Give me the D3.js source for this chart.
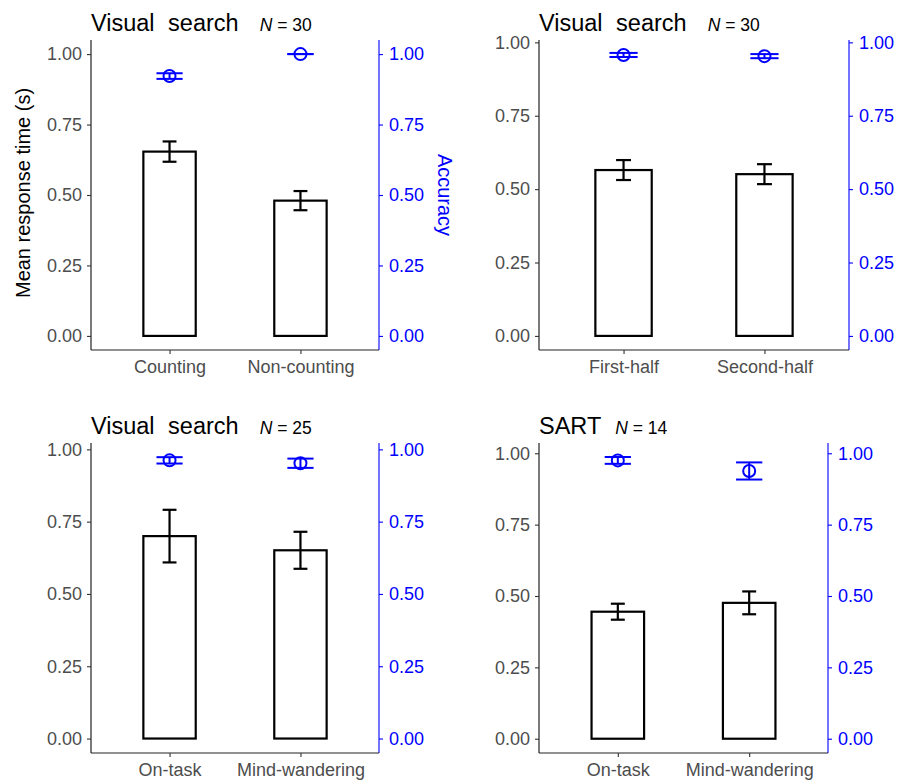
<!DOCTYPE html>
<html>
<head>
<meta charset="utf-8">
<script src="https://cdn.jsdelivr.net/npm/d3@7"></script>
<style>
  html, body { margin: 0; padding: 0; background: #fff; }
  svg { display: block; font-family: "Liberation Sans", Arial, sans-serif; }
</style>
</head>
<body>
<svg id="chart" width="909" height="780"></svg>
<script>
// ---- data ----
const panelTitles = ["Visual search", "Visual search", "Visual search", "SART"];
const panelN = [30, 30, 25, 14];
const categories = [
  ["Counting", "Non-counting"],
  ["First-half", "Second-half"],
  ["On-task", "Mind-wandering"],
  ["On-task", "Mind-wandering"]
];
// mean response time (s) and its standard error
const rtMean = [[0.654, 0.480], [0.565, 0.551], [0.700, 0.651], [0.445, 0.476]];
const rtSE   = [[0.036, 0.034], [0.034, 0.034], [0.091, 0.064], [0.028, 0.040]];
// accuracy and its standard error
const accMean = [[0.922, 1.000], [0.957, 0.953], [0.962, 0.952], [0.975, 0.938]];
const accSE   = [[0.010, 0.000], [0.007, 0.007], [0.011, 0.016], [0.012, 0.030]];
const yTicks = [0, 0.25, 0.5, 0.75, 1];

// ---- layout of the four panels ----
const panels = [
  { left: 91,  right: 379, top: 40,  bottom: 350, ymin: -0.05, ymax: 1.05,  titleY: 30.5 },
  { left: 539, right: 849, top: 40,  bottom: 350, ymin: -0.048, ymax: 1.008, titleY: 30.5 },
  { left: 91,  right: 379, top: 443, bottom: 753, ymin: -0.05, ymax: 1.022, titleY: 433.5 },
  { left: 539, right: 828, top: 443, bottom: 753, ymin: -0.05, ymax: 1.036, titleY: 433.5 }
];

const svg = d3.select("#chart");
const fmt = d3.format(".2f");
const BLUE = "#0000ff";
const WORD_GAP = 7;

panels.forEach((p, i) => {
  const g = svg.append("g");
  const x = d3.scaleLinear().domain([0.4, 2.6]).range([p.left, p.right]);
  const y = d3.scaleLinear().domain([p.ymin, p.ymax]).range([p.bottom, p.top]);
  const unit = x(1) - x(0);

  const rows = categories[i].map((c, j) => ({
    pos: j + 1, cat: c,
    rt: rtMean[i][j], rtse: rtSE[i][j],
    acc: accMean[i][j], accse: accSE[i][j]
  }));

  // bars
  g.selectAll("rect.bar").data(rows).join("rect")
    .attr("class", "bar")
    .attr("x", d => x(d.pos - 0.2))
    .attr("width", 0.4 * unit)
    .attr("y", d => y(d.rt))
    .attr("height", d => y(0) - y(d.rt))
    .attr("fill", "#fff").attr("stroke", "#000").attr("stroke-width", 2.2);

  // response-time error bars
  const eb = g.selectAll("g.rterr").data(rows).join("g").attr("class", "rterr")
    .attr("stroke", "#000").attr("stroke-width", 2.2).attr("fill", "none");
  eb.append("line")
    .attr("x1", d => x(d.pos)).attr("x2", d => x(d.pos))
    .attr("y1", d => y(d.rt - d.rtse)).attr("y2", d => y(d.rt + d.rtse));
  eb.append("line")
    .attr("x1", d => x(d.pos - 0.053)).attr("x2", d => x(d.pos + 0.053))
    .attr("y1", d => y(d.rt + d.rtse)).attr("y2", d => y(d.rt + d.rtse));
  eb.append("line")
    .attr("x1", d => x(d.pos - 0.053)).attr("x2", d => x(d.pos + 0.053))
    .attr("y1", d => y(d.rt - d.rtse)).attr("y2", d => y(d.rt - d.rtse));

  // accuracy error bars and points
  const ab = g.selectAll("g.accerr").data(rows).join("g").attr("class", "accerr")
    .attr("stroke", BLUE).attr("stroke-width", 2).attr("fill", "none");
  ab.append("line")
    .attr("x1", d => x(d.pos)).attr("x2", d => x(d.pos))
    .attr("y1", d => y(d.acc - d.accse)).attr("y2", d => y(d.acc + d.accse));
  ab.append("line")
    .attr("x1", d => x(d.pos - 0.1)).attr("x2", d => x(d.pos + 0.1))
    .attr("y1", d => y(d.acc + d.accse)).attr("y2", d => y(d.acc + d.accse));
  ab.append("line")
    .attr("x1", d => x(d.pos - 0.1)).attr("x2", d => x(d.pos + 0.1))
    .attr("y1", d => y(d.acc - d.accse)).attr("y2", d => y(d.acc - d.accse));
  ab.append("circle")
    .attr("cx", d => x(d.pos)).attr("cy", d => y(d.acc)).attr("r", 6);

  // left axis (response time)
  const la = g.append("g").attr("transform", `translate(${p.left},0)`)
    .call(d3.axisLeft(y).tickValues(yTicks).tickFormat(fmt).tickSize(4).tickPadding(5));
  la.select(".domain").attr("stroke", "#222").attr("stroke-width", 1.2)
    .attr("d", `M0,${p.top}V${p.bottom}`);
  la.selectAll(".tick line").attr("stroke", "#333").attr("stroke-width", 1.1);
  la.selectAll(".tick text").attr("fill", "#4d4d4d").style("font-size", "18px")
    .style("font-family", "'Liberation Sans', Arial, sans-serif");

  // right axis (accuracy)
  const ra = g.append("g").attr("transform", `translate(${p.right},0)`)
    .call(d3.axisRight(y).tickValues(yTicks).tickFormat(fmt).tickSize(4).tickPadding(6));
  ra.select(".domain").attr("stroke", BLUE).attr("stroke-width", 1.1)
    .attr("d", `M0,${p.top}V${p.bottom}`);
  ra.selectAll(".tick line").attr("stroke", BLUE).attr("stroke-width", 1.1);
  ra.selectAll(".tick text").attr("fill", BLUE).style("font-size", "18px")
    .style("font-family", "'Liberation Sans', Arial, sans-serif");

  // category axis
  const xa = g.append("g").attr("transform", `translate(0,${p.bottom})`)
    .call(d3.axisBottom(x).tickValues([1, 2]).tickFormat((d) => categories[i][d - 1])
      .tickSize(4).tickPadding(6));
  xa.select(".domain").attr("stroke", "#222").attr("stroke-width", 1.2)
    .attr("d", `M${p.left},0H${p.right}`);
  xa.selectAll(".tick line").attr("stroke", "#333").attr("stroke-width", 1.1);
  xa.selectAll(".tick text").attr("fill", "#4d4d4d").style("font-size", "18px")
    .style("font-family", "'Liberation Sans', Arial, sans-serif");

  // panel title with sample size
  const title = g.append("text")
    .attr("x", p.left).attr("y", p.titleY)
    .attr("fill", "#000").style("font-size", "23.5px").style("word-spacing", WORD_GAP + "px")
    .text(panelTitles[i]);
  const tEnd = p.left + title.node().getComputedTextLength() + WORD_GAP *
    (panelTitles[i].split(" ").length - 1);
  const nt = g.append("text")
    .attr("x", tEnd + 14).attr("y", p.titleY)
    .attr("fill", "#000").style("font-size", "17.5px");
  nt.append("tspan").style("font-style", "italic").text("N");
  nt.append("tspan").text(" = " + panelN[i]);

  if (i === 0) {
    svg.append("text")
      .attr("transform", `translate(30,${(p.top + p.bottom) / 2 - 2}) rotate(-90)`)
      .attr("text-anchor", "middle").attr("fill", "#000").style("font-size", "20px")
      .text("Mean response time (s)");
    svg.append("text")
      .attr("transform", `translate(438,${(p.top + p.bottom) / 2}) rotate(90)`)
      .attr("text-anchor", "middle").attr("fill", BLUE).style("font-size", "20px")
      .text("Accuracy");
  }
});
</script>
</body>
</html>
